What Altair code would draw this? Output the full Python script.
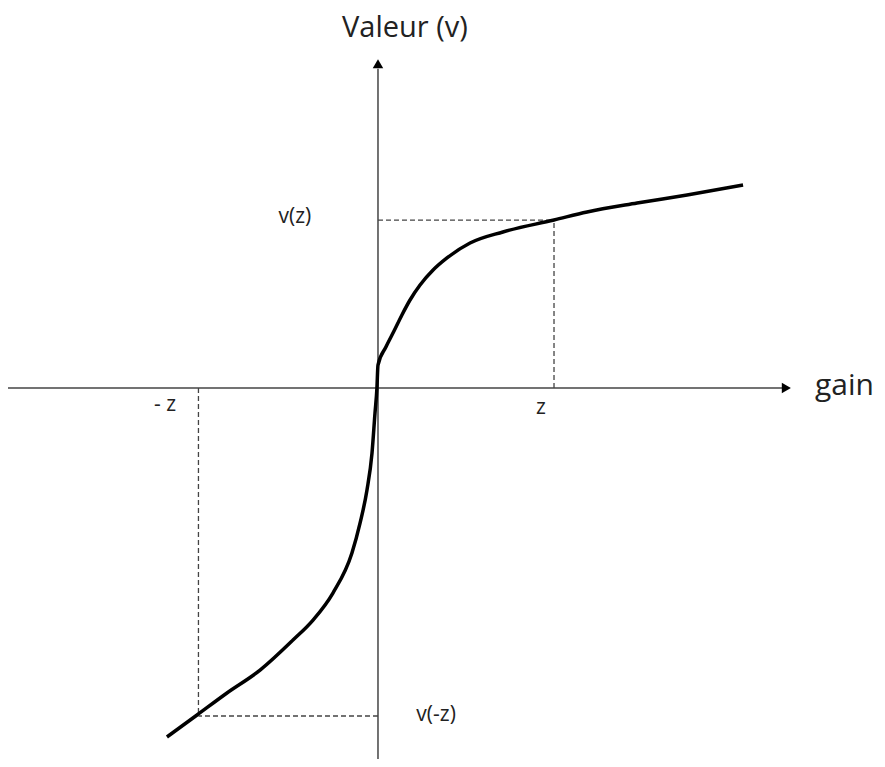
import altair as alt
import pandas as pd

# Value function curve (gain in units of z, value in units of v(z))
gain = [-1.199, -1.028, -0.858, -0.670, -0.483, -0.369, -0.256, -0.148,
        -0.102, -0.0625, -0.034, -0.017, -0.006, 0.000, 0.045, 0.091, 0.136, 0.182,
        0.239, 0.313, 0.392, 0.523, 0.710, 1.000, 1.188, 1.472, 1.756, 2.074]
value = [-2.077, -1.946, -1.815, -1.679, -1.500, -1.381, -1.220, -0.982,
         -0.804, -0.607, -0.387, -0.149, 0.000, 0.137, 0.244, 0.339, 0.435, 0.524,
         0.613, 0.702, 0.774, 0.863, 0.929, 1.000, 1.048, 1.101, 1.149, 1.208]

z_pos = 1.0
z_neg = -1.02
v_pos = 1.0
v_neg = -1.952

x_min, x_max = -2.102, 2.835
y_min, y_max = -2.208, 2.262

# axis extents
h_axis = [x_min, 2.30]
v_axis = [y_min, 1.90]
arrow_x_tip = 2.32
arrow_y_tip = 1.93

labels = ["Valeur (v)", "gain", "- z", "z", "v(z)", "v(-z)"]
label_x = [0.153, 2.650, -1.210, 0.926, -0.472, 0.330]
label_y = [2.145, 0.012, -0.101, -0.119, 1.018, -1.946]
label_size = [29, 30, 21, 21, 21, 21]

xs = alt.Scale(domain=[x_min, x_max], nice=False, zero=False)
ys = alt.Scale(domain=[y_min, y_max], nice=False, zero=False)

curve_df = pd.DataFrame({"g": gain, "v": value, "i": list(range(len(gain)))})
curve = alt.Chart(curve_df).mark_line(
    color="black", strokeWidth=3.5, interpolate="monotone"
).encode(
    x=alt.X("g:Q", scale=xs, axis=None),
    y=alt.Y("v:Q", scale=ys, axis=None),
    order="i:Q",
)

haxis = alt.Chart(pd.DataFrame({"x": [h_axis[0]], "x2": [h_axis[1]], "y": [0.0]})).mark_rule(
    color="#444", strokeWidth=1.5
).encode(x=alt.X("x:Q", scale=xs, axis=None), x2="x2:Q", y=alt.Y("y:Q", scale=ys, axis=None))

vaxis = alt.Chart(pd.DataFrame({"y": [v_axis[0]], "y2": [v_axis[1]], "x": [0.0]})).mark_rule(
    color="#444", strokeWidth=1.5
).encode(y=alt.Y("y:Q", scale=ys, axis=None), y2="y2:Q", x=alt.X("x:Q", scale=xs, axis=None))

arrow_r = alt.Chart(pd.DataFrame({"x": [arrow_x_tip], "y": [0.0]})).mark_point(
    shape="triangle-right", filled=True, color="black", size=110, opacity=1
).encode(x=alt.X("x:Q", scale=xs, axis=None), y=alt.Y("y:Q", scale=ys, axis=None))

arrow_u = alt.Chart(pd.DataFrame({"x": [0.0], "y": [arrow_y_tip]})).mark_point(
    shape="triangle-up", filled=True, color="black", size=110, opacity=1
).encode(x=alt.X("x:Q", scale=xs, axis=None), y=alt.Y("y:Q", scale=ys, axis=None))

dash_df = pd.DataFrame({
    "x": [z_pos, 0.0, z_neg, 0.0],
    "x2": [z_pos, z_pos, z_neg, z_neg],
    "y": [0.0, v_pos, 0.0, v_neg],
    "y2": [v_pos, v_pos, v_neg, v_neg],
})
dashes = alt.Chart(dash_df).mark_rule(
    color="#444", strokeWidth=1.3, strokeDash=[5, 3]
).encode(
    x=alt.X("x:Q", scale=xs, axis=None), x2="x2:Q",
    y=alt.Y("y:Q", scale=ys, axis=None), y2="y2:Q",
)

lab_df = pd.DataFrame({"t": labels, "x": label_x, "y": label_y, "s": label_size})
texts = alt.Chart(lab_df).mark_text(
    font="Open Sans", color="#222", align="center", baseline="middle"
).encode(
    x=alt.X("x:Q", scale=xs, axis=None),
    y=alt.Y("y:Q", scale=ys, axis=None),
    text="t:N",
    size=alt.Size("s:Q", scale=None, legend=None),
)

chart = alt.layer(dashes, haxis, vaxis, arrow_r, arrow_u, curve, texts).properties(
    width=869, height=751,
    autosize=alt.AutoSizeParams(type="none"),
    padding=0,
    background="white",
).configure_view(stroke=None)

chart.save("out.html", embed_options={"renderer": "svg", "actions": False})
